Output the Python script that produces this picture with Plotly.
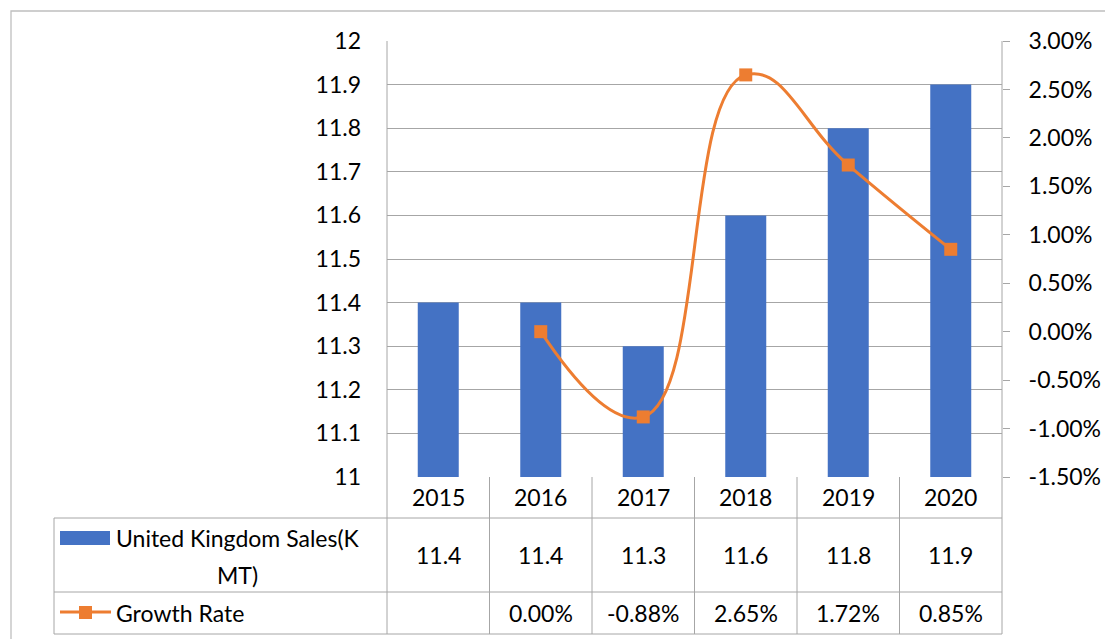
import plotly.graph_objects as go

years = ["2015", "2016", "2017", "2018", "2019", "2020"]
sales = [11.4, 11.4, 11.3, 11.6, 11.8, 11.9]
growth = [None, 0.0, -0.88, 2.65, 1.72, 0.85]  # percent
left_tickvals = [11, 11.1, 11.2, 11.3, 11.4, 11.5, 11.6, 11.7, 11.8, 11.9, 12]
left_ticktext = ["11", "11.1", "11.2", "11.3", "11.4", "11.5", "11.6", "11.7", "11.8", "11.9", "12"]
right_tickvals = [-1.5, -1.0, -0.5, 0.0, 0.5, 1.0, 1.5, 2.0, 2.5, 3.0]
right_ticktext = ["-1.50%", "-1.00%", "-0.50%", "0.00%", "0.50%", "1.00%", "1.50%", "2.00%", "2.50%", "3.00%"]
sales_label_lines = ["United Kingdom Sales(K", "MT)"]
growth_label = "Growth Rate"

W, H = 1105, 639
L, R, T, B = 387, 1002, 41, 477
FONT = "Lato"
FS = 23
BLUE = "#4472C4"
ORANGE = "#ED7D31"
GRID = "#A6A6A6"


def px(x):
    return (x - L) / (R - L)


def py(y):
    return (B - y) / (B - T)


fig = go.Figure()
fig.add_trace(go.Bar(x=years, y=sales, marker=dict(color=BLUE, line=dict(width=0)),
                     width=0.4, yaxis="y", name=" ".join(sales_label_lines)))
fig.add_trace(go.Scatter(x=years, y=growth, yaxis="y2", mode="lines+markers",
                         line=dict(color=ORANGE, width=3, shape="spline", smoothing=1.3),
                         marker=dict(symbol="square", size=13, color=ORANGE),
                         name=growth_label))

shapes = []
line = dict(color=GRID, width=1)
# outer chart border
shapes.append(dict(type="rect", xref="paper", yref="paper", x0=px(11), x1=px(1115), y0=py(650), y1=py(11),
                   line=dict(color="#BFBFBF", width=1.3), layer="below"))
# table horizontal lines
for yy in (518, 592, 634):
    shapes.append(dict(type="line", xref="paper", yref="paper", x0=px(54), x1=1, y0=py(yy), y1=py(yy), line=line))
# table left border
shapes.append(dict(type="line", xref="paper", yref="paper", x0=px(54), x1=px(54), y0=py(518), y1=py(634), line=line))
# plot left / right borders extending through table
for xx in (0, 1):
    shapes.append(dict(type="line", xref="paper", yref="paper", x0=xx, x1=xx, y0=1, y1=py(634), line=line))
# internal category boundaries in table
for i in range(1, len(years)):
    shapes.append(dict(type="line", xref="x", yref="paper", x0=i - 0.5, x1=i - 0.5, y0=0, y1=py(634), line=line))
# legend keys
shapes.append(dict(type="rect", xref="paper", yref="paper", x0=px(60), x1=px(110), y0=py(545), y1=py(531),
                   fillcolor=BLUE, line=dict(width=0)))
shapes.append(dict(type="line", xref="paper", yref="paper", x0=px(60), x1=px(111), y0=py(612), y1=py(612),
                   line=dict(color=ORANGE, width=3)))
shapes.append(dict(type="rect", xref="paper", yref="paper", x0=px(79), x1=px(92), y0=py(619), y1=py(606),
                   fillcolor=ORANGE, line=dict(width=0)))

ann = []
tf = dict(family=FONT, size=FS, color="black")
for i, yr in enumerate(years):
    ann.append(dict(x=i, xref="x", y=py(497), yref="paper", text=yr, showarrow=False, font=tf,
                    xanchor="center", yanchor="middle"))
    ann.append(dict(x=i, xref="x", y=py(555), yref="paper", text=f"{sales[i]:.1f}", showarrow=False, font=tf,
                    xanchor="center", yanchor="middle"))
    if growth[i] is not None:
        ann.append(dict(x=i, xref="x", y=py(613), yref="paper", text=f"{growth[i]:.2f}%", showarrow=False,
                        font=tf, xanchor="center", yanchor="middle"))
ann.append(dict(x=px(114), xref="paper", y=py(538), yref="paper", text=sales_label_lines[0],
                showarrow=False, font=tf, xanchor="left", yanchor="middle"))
ann.append(dict(x=px(237), xref="paper", y=py(575), yref="paper", text=sales_label_lines[1],
                showarrow=False, font=tf, xanchor="center", yanchor="middle"))
ann.append(dict(x=px(114), xref="paper", y=py(613), yref="paper", text=growth_label,
                showarrow=False, font=tf, xanchor="left", yanchor="middle"))

fig.update_layout(
    width=W, height=H,
    margin=dict(l=L, r=W - R, t=T, b=H - B, pad=0, autoexpand=False),
    paper_bgcolor="white", plot_bgcolor="white",
    showlegend=False,
    font=dict(family=FONT, size=FS, color="black"),
    xaxis=dict(type="category", showticklabels=False, ticks="", showgrid=False, zeroline=False,
               showline=False, range=[-0.5, len(years) - 0.5], automargin=False),
    yaxis=dict(range=[11, 12], tickvals=left_tickvals, ticktext=left_ticktext, showgrid=True,
               gridcolor=GRID, gridwidth=1, zeroline=False, showline=False, ticks="",
               ticklabelstandoff=25, tickfont=tf, automargin=False),
    yaxis2=dict(range=[-1.5, 3.0], tickvals=right_tickvals, ticktext=right_ticktext, overlaying="y",
                side="right", showgrid=False, zeroline=False, showline=False, ticks="outside",
                ticklen=7, tickcolor=GRID, tickwidth=1, ticklabelstandoff=14, tickfont=tf,
                automargin=False),
    shapes=shapes,
    annotations=ann,
)

fig.write_html("out.html", config={"displayModeBar": False},
               post_script="document.body.style.margin='0';")
